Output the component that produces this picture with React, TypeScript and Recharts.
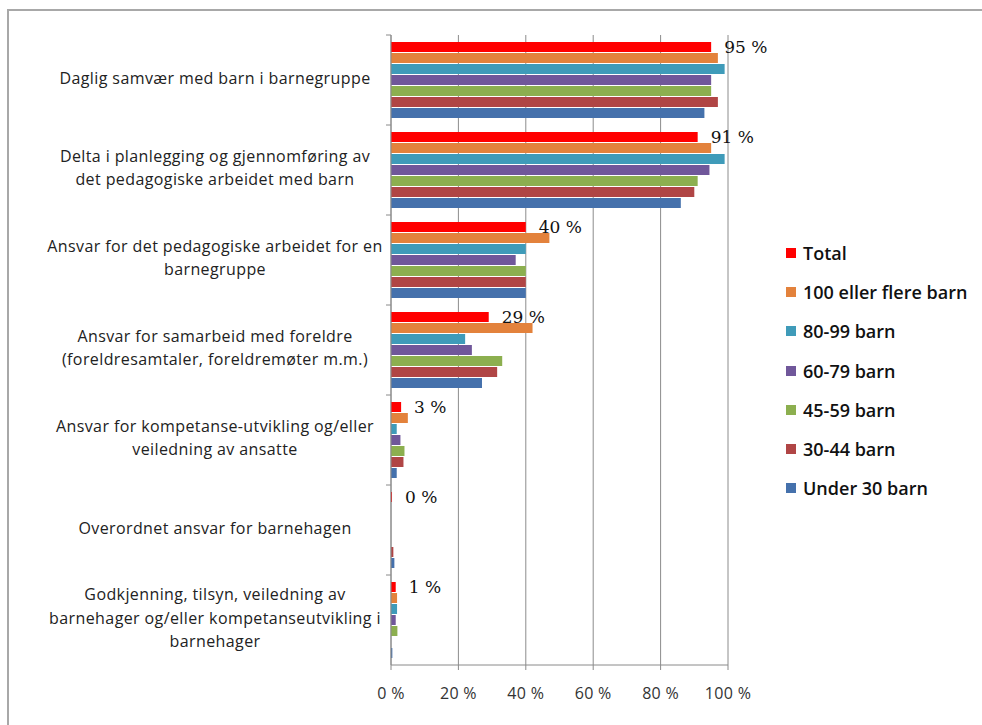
import React from 'react';
import {
  BarChart,
  Bar,
  XAxis,
  YAxis,
  CartesianGrid,
  LabelList,
} from 'recharts';

// category labels (line breaks as in the original chart)
const categories = [
  'Daglig samvær med barn i barnegruppe',
  'Delta i planlegging og gjennomføring av\ndet pedagogiske arbeidet med barn',
  'Ansvar for det pedagogiske arbeidet for en\nbarnegruppe',
  'Ansvar for samarbeid med foreldre\n(foreldresamtaler, foreldremøter m.m.)',
  'Ansvar for kompetanse-utvikling og/eller\nveiledning av ansatte',
  'Overordnet ansvar for barnehagen',
  'Godkjenning, tilsyn, veiledning av\nbarnehager og/eller kompetanseutvikling i\nbarnehager',
];

const total = [95, 91, 40, 29, 3, 0.3, 1.4];
const hundredPlus = [97, 95, 47, 42, 5, 0, 1.8];
const from80to99 = [99, 99, 40, 22, 1.7, 0, 1.8];
const from60to79 = [95, 94.5, 37, 24, 2.8, 0, 1.4];
const from45to59 = [95, 91, 40, 33, 4, 0, 1.9];
const from30to44 = [97, 90, 40, 31.5, 3.7, 0.7, 0];
const under30 = [93, 86, 40, 27, 1.7, 1.0, 0.4];

const xTicks = [0, 20, 40, 60, 80, 100];

const series = [
  { key: 'total', name: 'Total', color: '#FF0000', values: total },
  { key: 'hundredPlus', name: '100 eller flere barn', color: '#E3823C', values: hundredPlus },
  { key: 'from80to99', name: '80-99 barn', color: '#3F9BB9', values: from80to99 },
  { key: 'from60to79', name: '60-79 barn', color: '#70579A', values: from60to79 },
  { key: 'from45to59', name: '45-59 barn', color: '#8CAF4F', values: from45to59 },
  { key: 'from30to44', name: '30-44 barn', color: '#B04545', values: from30to44 },
  { key: 'under30', name: 'Under 30 barn', color: '#4571AC', values: under30 },
];

const data = categories.map((name, i) => {
  const row: Record<string, string | number> = { name };
  series.forEach((s) => {
    row[s.key] = s.values[i];
  });
  return row;
});

const WIDTH = 982;
const HEIGHT = 725;
const MARGIN = { top: 35, right: 254, bottom: 10, left: 0 };
const X_AXIS_HEIGHT = 50;
const BAND = (HEIGHT - MARGIN.top - MARGIN.bottom - X_AXIS_HEIGHT) / categories.length;
const SANS = '"Open Sans", "Noto Sans", sans-serif';

function CategoryTick(props: any) {
  const { x, y, payload } = props;
  const lines: string[] = String(payload.value).split('\n');
  const lineH = 23.5;
  const startY = y - ((lines.length - 1) * lineH) / 2 - 2;
  return (
    <g>
      <line x1={x - 5} x2={x} y1={y - BAND / 2} y2={y - BAND / 2} stroke="#8a8a8a" />
      <text
        x={x - 176}
        y={startY}
        textAnchor="middle"
        fontFamily={SANS}
        fontSize={16}
        letterSpacing={0.4}
        fill="#222"
      >
        {lines.map((l, i) => (
          <tspan key={i} x={x - 176} y={startY + i * lineH} dy="0.35em">
            {l}
          </tspan>
        ))}
      </text>
    </g>
  );
}

function ChartLegend() {
  return (
    <div
      style={{
        position: 'absolute',
        left: 786,
        top: 233,
        fontFamily: SANS,
        fontSize: 18,
        fontWeight: 600,
        color: '#111',
      }}
    >
      {series.map((s) => (
        <div
          key={s.key}
          style={{ display: 'flex', alignItems: 'center', height: 39.3 }}
        >
          <span
            style={{
              display: 'inline-block',
              width: 10,
              height: 10,
              background: s.color,
              marginRight: 7,
            }}
          />
          <span>{s.name}</span>
        </div>
      ))}
    </div>
  );
}

export default function App() {
  return (
    <div
      style={{
        position: 'absolute',
        left: 0,
        top: 0,
        width: WIDTH,
        height: HEIGHT,
        background: '#fff',
        overflow: 'hidden',
      }}
    >
      <div
        style={{
          position: 'absolute',
          left: 7,
          top: 9,
          width: WIDTH + 20,
          height: HEIGHT + 20,
          borderTop: '2px solid #a8a8a8',
          borderLeft: '2px solid #a8a8a8',
        }}
      />
      <div style={{ position: 'absolute', left: 0, top: 0 }}>
        <BarChart
          width={WIDTH}
          height={HEIGHT}
          data={data}
          layout="vertical"
          margin={MARGIN}
          barSize={10}
          barGap={1}
        >
          <CartesianGrid horizontal={false} stroke="#8c8c8c" />
          <XAxis
            type="number"
            domain={[0, 100]}
            ticks={xTicks}
            interval={0}
            height={X_AXIS_HEIGHT}
            tickFormatter={(v: number) => `${v} %`}
            axisLine={{ stroke: '#8a8a8a' }}
            tickLine={{ stroke: '#8a8a8a' }}
            tickSize={5}
            tickMargin={18}
            tick={{ fill: '#333', fontSize: 16, fontFamily: SANS, letterSpacing: 0.3 }}
          />
          <YAxis
            type="category"
            dataKey="name"
            width={391}
            axisLine={{ stroke: '#8a8a8a' }}
            tickLine={false}
            tickSize={0}
            tickMargin={0}
            tick={<CategoryTick />}
            interval={0}
          />
          {series.map((s, idx) => (
            <Bar
              key={s.key}
              dataKey={s.key}
              name={s.name}
              fill={s.color}
              isAnimationActive={false}
            >
              {idx === 0 && (
                <LabelList
                  dataKey={s.key}
                  position="right"
                  offset={13}
                  formatter={(v: number) => `${Math.round(v)} %`}
                  style={{ fontFamily: '"DejaVu Serif", serif', fontSize: 17, fill: '#111' }}
                />
              )}
            </Bar>
          ))}
        </BarChart>
      </div>
      <ChartLegend />
    </div>
  );
}
